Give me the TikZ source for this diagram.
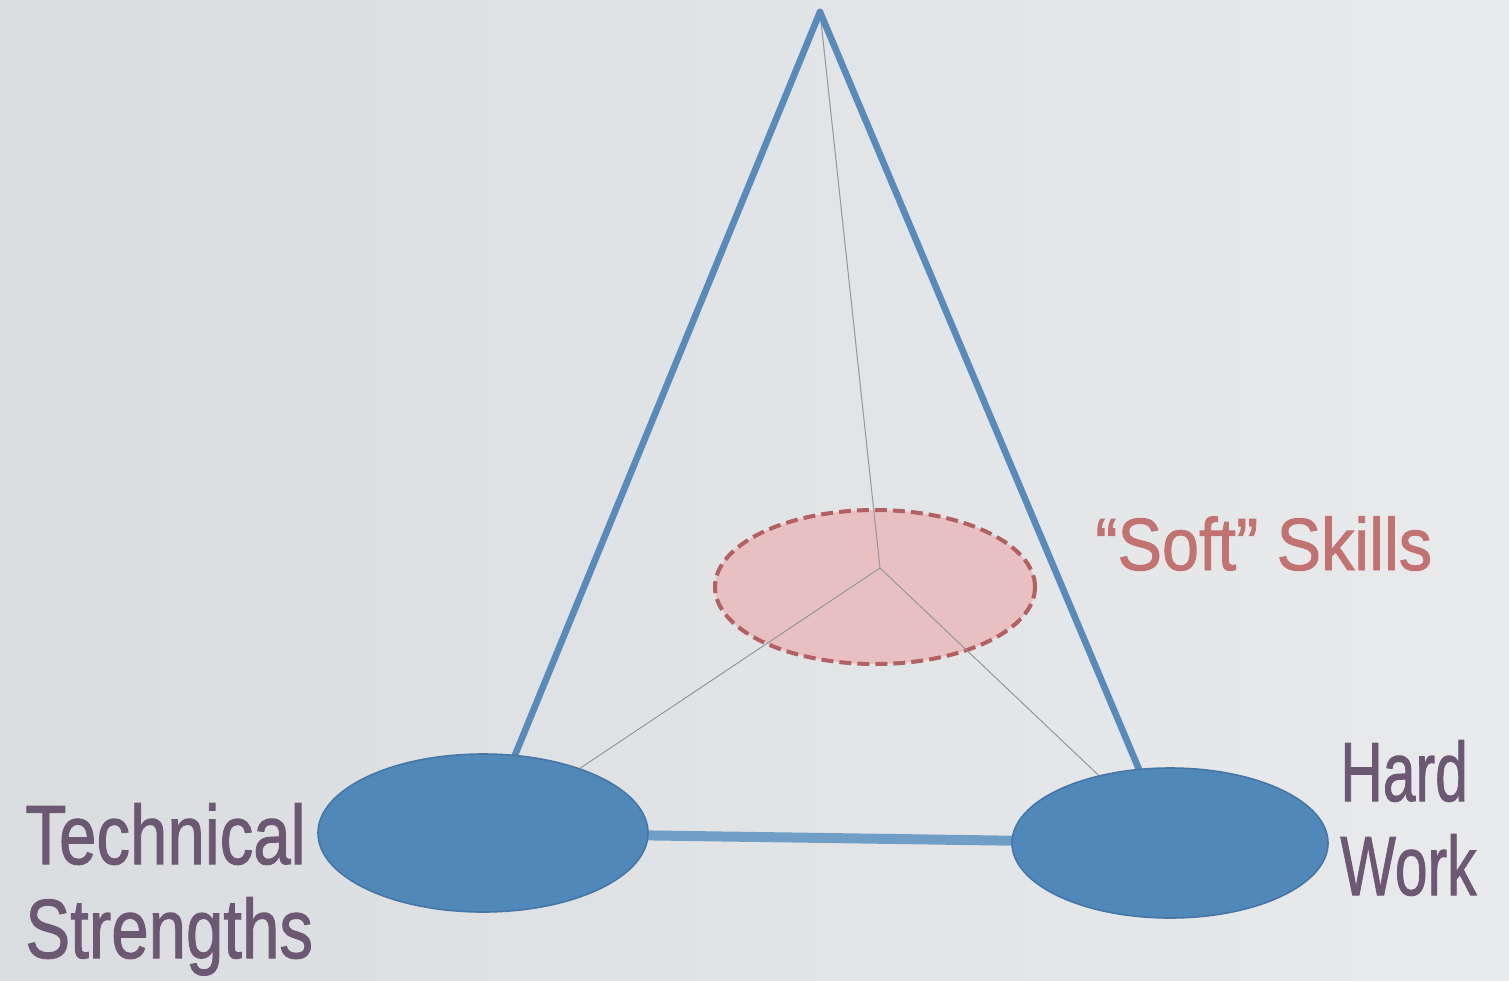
\documentclass[tikz,border=0pt]{standalone}
\usepackage{fontspec}
\setmainfont{Liberation Sans}
\newfontfamily\lblfont[FakeBold=1.3]{Liberation Sans}
\usetikzlibrary{shapes.geometric,backgrounds}
\definecolor{bgl}{RGB}{218,221,223}
\definecolor{bgr}{RGB}{232,234,236}
\definecolor{bluefill}{RGB}{80,136,186}
\definecolor{blueedge}{RGB}{70,118,165}
\definecolor{blueline}{RGB}{88,139,186}
\definecolor{bluebar}{RGB}{112,158,198}
\definecolor{pinkfill}{RGB}{232,192,194}
\definecolor{pinkedge}{RGB}{178,96,98}
\definecolor{thinline}{RGB}{150,150,156}
\definecolor{labelc}{RGB}{108,88,114}
\definecolor{softc}{RGB}{194,114,112}
\newcommand{\narrowtxt}[2]{\scalebox{#1}[1]{#2}}
\begin{document}
\begin{tikzpicture}[x=0.5pt,y=-0.5pt,
  blueoval/.style={ellipse, fill=bluefill, draw=blueedge, line width=0.8pt, inner sep=0pt},
  softoval/.style={ellipse, fill=pinkfill, draw=pinkedge, dash pattern=on 6pt off 3pt, line width=2pt, inner sep=0pt, minimum width=160pt, minimum height=77pt},
  sideedge/.style={draw=blueline, line width=3.3pt, line cap=round},
  baseedge/.style={draw=bluebar, line width=5pt},
  thinedge/.style={draw=thinline, line width=0.5pt},
  lbl/.style={font=\lblfont\fontsize{42}{47}\selectfont, text=labelc, align=left, inner sep=0pt},
]
\useasboundingbox (0,0) rectangle (1509,980);
\begin{pgfonlayer}{background}
  \shade[left color=bgl, right color=bgr] (0,0) rectangle (1509,980);
\end{pgfonlayer}
\coordinate (apex) at (820,12);
\coordinate (hub) at (880,568);
\node[blueoval, minimum width=165pt, minimum height=79pt] (tech) at (483,833) {};
\node[blueoval, minimum width=158pt, minimum height=75pt] (hw) at (1170,843) {};
\begin{pgfonlayer}{background}
  \node[softoval] (soft) at (875,587) {};
  \draw[thinedge] (hub) -- (apex);
  \draw[thinedge] (hub) -- (tech.center);
  \draw[thinedge] (hub) -- (hw.center);
  \draw[sideedge] (apex) -- (tech.center);
  \draw[sideedge] (apex) -- (hw.center);
  \draw[baseedge] (tech.center) -- (hw.center);
\end{pgfonlayer}
\node[lbl, anchor=base west] (techlbl) at (25,958) {\narrowtxt{0.8}{Technical}\\\narrowtxt{0.8}{Strengths}};
\node[lbl, anchor=base west] (hwlbl) at (1340,895) {\narrowtxt{0.7}{Hard}\\\narrowtxt{0.7}{Work}};
\node[anchor=base west, font=\lblfont\fontsize{37}{40}\selectfont, text=softc, inner sep=0pt] (softlbl) at (1095,570) {\narrowtxt{0.9}{“Soft” Skills}};
\end{tikzpicture}
\end{document}
